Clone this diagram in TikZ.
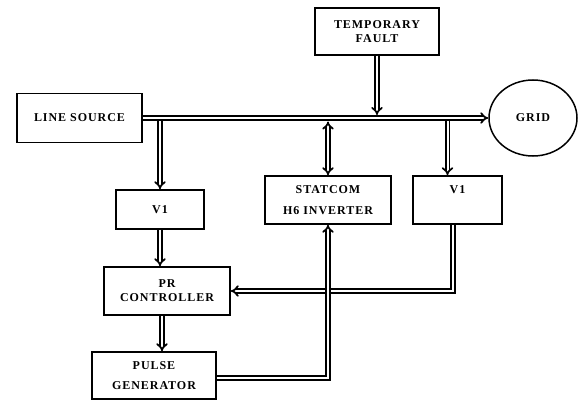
\documentclass[tikz,border=0pt]{standalone}
\usepackage{fontspec}
\setmainfont{Liberation Serif}[LetterSpace=8]
\usetikzlibrary{arrows.meta,shapes.geometric}

\tikzset{
  blk/.style={draw, line width=1.5pt, align=center, font=\bfseries\fontsize{12}{14}\selectfont},
  pipe/.style={draw, line width=1.7pt, double, double distance=2pt},
}

\begin{document}
\begin{tikzpicture}[x=1pt, y=-1pt]
  \useasboundingbox (0,0) rectangle (578,401);
  % Blocks
  \node[blk, minimum width=124pt, minimum height=47pt] (fault) at (377,31.5) {TEMPORARY\\FAULT};
  \node[blk, minimum width=125pt, minimum height=49pt] (src) at (79.5,118) {LINE SOURCE};
  \node[blk, ellipse, minimum width=88pt, minimum height=76pt] (grid) at (533,118) {GRID};
  \node[blk, minimum width=88pt, minimum height=39pt] (via) at (160,209.5) {V1};
  \node[blk, minimum width=126pt, minimum height=48pt] (statcom) at (328,200) {STATCOM\\[7pt]H6 INVERTER};
  \node[blk, minimum width=89pt, minimum height=48pt] (vib) at (457.5,200) {V1\\[6pt]};
  \node[blk, minimum width=126pt, minimum height=48pt] (pr) at (167,291) {PR\\CONTROLLER};
  \node[blk, minimum width=124pt, minimum height=47pt] (pulse) at (154,375.5) {PULSE\\[6pt]GENERATOR};
  % Fault onto the bus
  \draw[pipe, -{Implies}, shorten >=3pt] (fault.south) -- (fault.south |- src.east);
  % Drops from the bus
  \coordinate (tapa) at (via.north |- src.east);
  \coordinate (tapb) at ([xshift=-10pt]vib.north |- src.east);
  \draw[pipe, -{Implies}] (tapa) -- (via.north);
  \draw[pipe, {Implies}-{Implies}, shorten <=3.5pt] (statcom.north |- src.east) -- (statcom.north);
  \draw[pipe, -{Implies}] (tapb) -- ([xshift=-10pt]vib.north);
  % Bus from source to grid
  \draw[pipe, -{Implies}] (src.east) -- (src.east -| grid.west);
  % Control chain
  \draw[pipe, -{Implies}] (via.south) -- (via.south |- pr.north);
  \draw[pipe, -{Implies}] ([xshift=-5pt]pr.south) -- ([xshift=-5pt]pr.south |- pulse.north);
  % Feedback from the right V1
  \draw[pipe, -{Implies}] ([xshift=-4.5pt]vib.south) |- (pr.east);
  % Gate pulses to the inverter
  \draw[pipe, -{Implies}] ([yshift=-2.5pt]pulse.east) -| (statcom.south);
\end{tikzpicture}
\end{document}
